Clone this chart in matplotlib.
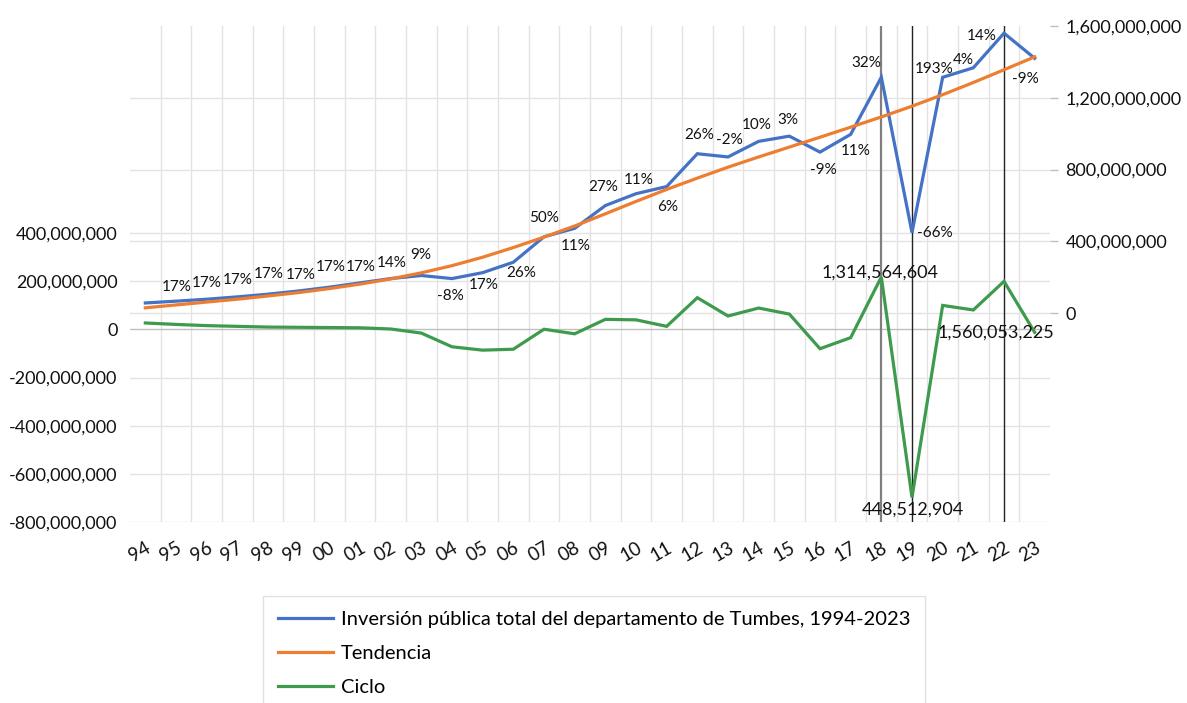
import matplotlib
matplotlib.use("Agg")
import matplotlib.pyplot as plt
import matplotlib.transforms as mtransforms
from matplotlib.ticker import FuncFormatter
import numpy as np

plt.rcParams['font.family'] = ['Lato', 'DejaVu Sans']

# ---------------- data ----------------
years = ['94', '95', '96', '97', '98', '99', '00', '01', '02', '03',
         '04', '05', '06', '07', '08', '09', '10', '11', '12', '13',
         '14', '15', '16', '17', '18', '19', '20', '21', '22', '23']

inversion = [56e6, 66e6, 77e6, 90e6, 105e6, 123e6, 144e6, 168e6, 192e6, 209e6,
             192e6, 225e6, 283e6, 425e6, 472e6, 599e6, 665e6, 705e6, 888e6, 870e6,
             957e6, 986e6, 897e6, 996e6, 1314564604, 448512904, 1314e6, 1367e6,
             1560053225, 1420e6]

tendencia = [29e6, 45e6, 61e6, 77e6, 95e6, 114e6, 136e6, 161e6, 190e6, 224e6,
             264e6, 311e6, 365e6, 423e6, 485e6, 553e6, 622e6, 689e6, 752e6, 813e6,
             870e6, 925e6, 980e6, 1036e6, 1093e6, 1153e6, 1217e6, 1285e6, 1356e6, 1428e6]

ciclo = [27e6, 21e6, 16e6, 13e6, 10e6, 9e6, 8e6, 7e6, 2e6, -15e6,
         -72e6, -86e6, -82e6, 1e6, -18e6, 42e6, 40e6, 13e6, 132e6, 56e6,
         89e6, 64e6, -80e6, -34e6, 218e6, -698e6, 100e6, 81e6, 200e6, -12e6]

growth_labels = ['', '17%', '17%', '17%', '17%', '17%', '17%', '17%', '14%', '9%',
                 '-8%', '17%', '26%', '50%', '11%', '27%', '11%', '6%', '26%', '-2%',
                 '10%', '3%', '-9%', '11%', '32%', '-66%', '193%', '4%', '14%', '-9%']

highlight_years = ['18', '19', '22']
value_label_years = ['18', '19', '22']

series_names = ['Inversión pública total del departamento de Tumbes, 1994-2023',
                'Tendencia', 'Ciclo']

# ---------------- style / positions ----------------
c_blue, c_orange, c_green = '#4472C4', '#ED7D31', '#3E9B4E'
grid_c = '#e3e3e3'

# pixel offsets of growth labels relative to the blue points
growth_offsets = [(0, 0), (1, 14), (0, 16), (0, 17), (1, 20), (2, 16), (1, 20), (1, 16),
                  (1, 16), (-1, 21), (-2, -17), (1, -12), (8, -11), (0, 19), (1, -18),
                  (-2, 19), (3, 14), (1, -20), (2, 19), (1, 17), (-2, 16), (-1, 16),
                  (3, -18), (5, -17), (-15, 14), (23, 0), (-9, 8), (-10, 8), (-22, -3),
                  (-9, -21)]
value_offsets = {'18': (-1, 4), '19': (1, -12), '22': (-8, -51)}

W, H = 1187, 703
fig = plt.figure(figsize=(W / 100, H / 100), dpi=100)
ax = fig.add_axes([130 / W, 1 - 522 / H, 920 / W, 496 / H])
ax2 = ax.twinx()

x = np.arange(len(years))
ax.set_xlim(-0.5, len(years) - 0.5)
ax.set_ylim(-800e6, 1261e6)
ax2.set_ylim(-1165e6, 1600e6)

for a in (ax, ax2):
    for s in a.spines.values():
        s.set_visible(False)

# gridlines
left_ticks = np.arange(-800e6, 400e6 + 1, 200e6)
right_ticks = np.arange(0, 1600e6 + 1, 400e6)
for v in left_ticks:
    if v != 0:
        ax.axhline(v, color=grid_c, lw=1.0, zorder=0.5)
blend = mtransforms.blended_transform_factory(ax.transAxes, ax2.transData)
for v in right_ticks[:-1]:
    ax.plot([0, 1], [v, v], transform=blend, color=grid_c, lw=1.0, zorder=0.5)
for k in range(1, len(years)):
    ax.axvline(k - 0.5, color=grid_c, lw=1.0, zorder=0.5)
ax.axhline(0, color='#bfbfbf', lw=1.0, zorder=0.6)

# highlight vertical lines
for yr in highlight_years:
    i = years.index(yr)
    col = '#7f7f7f' if yr == highlight_years[0] else '#222222'
    lw = 1.6 if yr == highlight_years[0] else 1.0
    ax.axvline(i, color=col, lw=lw, zorder=1)

# series
l3, = ax.plot(x, ciclo, color=c_green, lw=2.3, zorder=2, solid_joinstyle='miter')
l1, = ax2.plot(x, inversion, color=c_blue, lw=2.3, zorder=2, solid_joinstyle='miter')
l2, = ax2.plot(x, tendencia, color=c_orange, lw=2.3, zorder=3)

# growth labels
for i, (t, (dx, dy)) in enumerate(zip(growth_labels, growth_offsets)):
    if t:
        ax2.annotate(t, (x[i], inversion[i]), xytext=(dx, dy), textcoords='offset pixels',
                     ha='center', va='center', fontsize=11, color='#111111', zorder=5)

# value labels placed at the cycle points
for yr in value_label_years:
    i = years.index(yr)
    dx, dy = value_offsets[yr]
    ax.annotate(f"{inversion[i]:,.0f}", (x[i], ciclo[i]), xytext=(dx, dy),
                textcoords='offset pixels', ha='center', va='center',
                fontsize=13, color='#111111', zorder=5)

# axes ticks
fmt = FuncFormatter(lambda v, p: f"{v:,.0f}")
ax.set_yticks(left_ticks)
ax.yaxis.set_major_formatter(fmt)
ax.tick_params(axis='y', length=0, pad=9, labelsize=13, labelcolor='#111111')
ax2.set_yticks(right_ticks)
ax2.yaxis.set_major_formatter(fmt)
ax2.tick_params(axis='y', length=6, width=1, color='#bfbfbf', pad=5, labelsize=13,
                labelcolor='#111111')

ax.set_xticks(x)
ax.set_xticklabels(years, rotation=30, ha='right', va='top', rotation_mode='anchor')
ax.tick_params(axis='x', length=0, pad=12, labelsize=13.5, labelcolor='#111111')

# legend
leg = fig.legend([l1, l2, l3], series_names, loc='upper left',
                 bbox_to_anchor=(263 / W, 1 - 596 / H), frameon=True, fancybox=False,
                 edgecolor='#d9d9d9', fontsize=14.5, handlelength=2.75, handletextpad=0.4,
                 labelspacing=0.86, borderpad=0.72, borderaxespad=0)
leg.get_frame().set_linewidth(1.0)

fig.savefig('out.png', dpi=100)
